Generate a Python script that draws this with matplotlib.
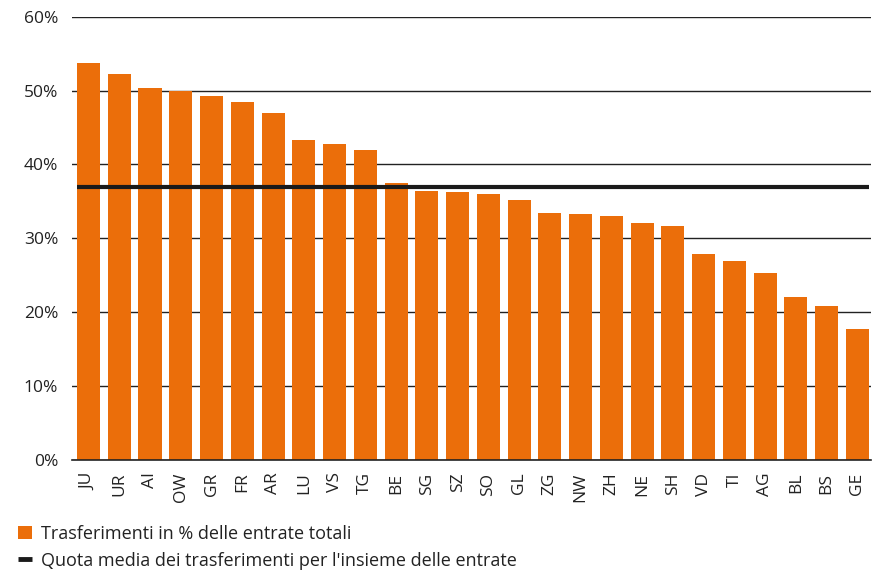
import matplotlib.pyplot as plt
import numpy as np
from matplotlib.patches import Patch
from matplotlib.lines import Line2D

# cantoni, ordinati per quota dei trasferimenti
cantons = ['JU', 'UR', 'AI', 'OW', 'GR', 'FR', 'AR', 'LU', 'VS', 'TG', 'BE', 'SG', 'SZ',
           'SO', 'GL', 'ZG', 'NW', 'ZH', 'NE', 'SH', 'VD', 'TI', 'AG', 'BL', 'BS', 'GE']
transfers = [53.7, 52.3, 50.3, 50.0, 49.2, 48.5, 47.0, 43.3, 42.8, 42.0, 37.5, 36.4, 36.3,
             36.0, 35.2, 33.4, 33.3, 33.0, 32.1, 31.7, 27.9, 27.0, 25.3, 22.0, 20.8, 17.7]
mean_share = 37.0
yticks = [0, 10, 20, 30, 40, 50, 60]

orange = '#EB6E0A'
plt.rcParams['font.family'] = ['Open Sans', 'DejaVu Sans']

fig = plt.figure(figsize=(8.72, 5.7), dpi=100)
ax = fig.add_axes([72/872, 110/570, 799/872, 443.3/570])

x = np.arange(len(cantons))
w = 0.75
ax.bar(x, transfers, width=w, color=orange, zorder=2)
ax.plot([x[0] - w/2, x[-1] + w/2], [mean_share, mean_share], color='#1a1a1a', lw=3,
        solid_capstyle='butt', zorder=3)

ax.set_xlim(-0.536, len(cantons) - 1 + 0.44)
ax.set_ylim(0, 60)
ax.set_yticks(yticks)
ax.set_yticklabels([f'{t}%' for t in yticks])
ax.set_xticks(x)
ax.set_xticklabels(cantons, rotation=90)
ax.tick_params(axis='y', length=0, pad=10, labelsize=12.5, labelcolor='#222222')
ax.tick_params(axis='x', length=0, pad=9, labelsize=12.5, labelcolor='#222222')
ax.yaxis.grid(True, color='#222222', lw=1)
ax.set_axisbelow(True)
for s in ['left', 'right', 'top']:
    ax.spines[s].set_visible(False)
ax.spines['bottom'].set_color('#222222')
ax.spines['bottom'].set_linewidth(1.2)
ax.spines['bottom'].set_zorder(4)

handles = [Patch(facecolor=orange, edgecolor='none'),
           Line2D([0], [0], color='#1a1a1a', lw=3.5, solid_capstyle='butt')]
labels = ['Trasferimenti in % delle entrate totali',
          "Quota media dei trasferimenti per l'insieme delle entrate"]
fig.legend(handles, labels, loc='lower left', bbox_to_anchor=(0.002, -0.028), frameon=False,
           fontsize=13, handlelength=0.8, handleheight=0.8, handletextpad=0.45,
           labelspacing=0.5, labelcolor='#222222')

plt.savefig('out.png', dpi=100)
